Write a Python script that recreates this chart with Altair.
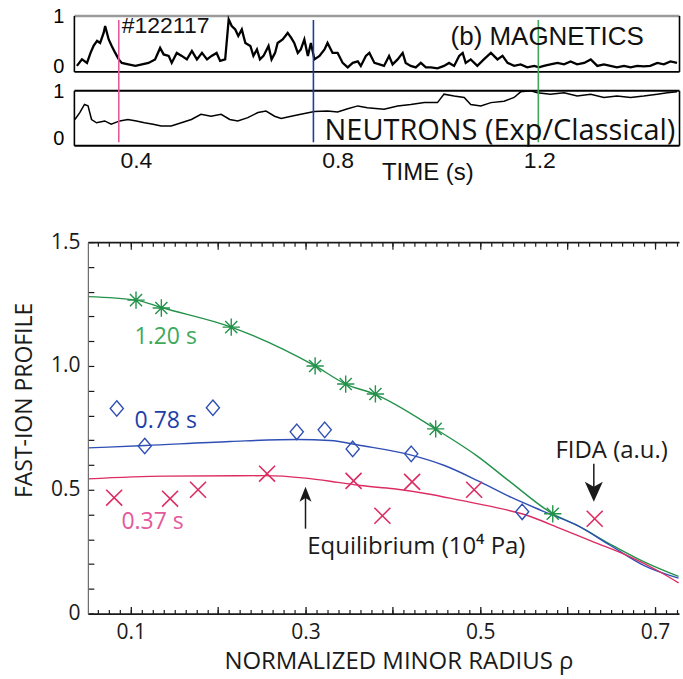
import altair as alt
import pandas as pd

# ---------------- top panels: time traces ----------------
mag_t = [0.283, 0.293, 0.303, 0.310, 0.316, 0.323, 0.329, 0.336, 0.339, 0.346,
         0.352, 0.359, 0.366, 0.372, 0.385, 0.399, 0.412, 0.425, 0.438, 0.448,
         0.455, 0.465, 0.471, 0.481, 0.491, 0.501, 0.511, 0.521, 0.531, 0.541,
         0.550, 0.560, 0.567, 0.577, 0.584, 0.590, 0.597, 0.603, 0.610, 0.617,
         0.627, 0.633, 0.640, 0.646, 0.653, 0.663, 0.669, 0.676,
         0.681, 0.691, 0.701, 0.708, 0.714, 0.721, 0.727, 0.734, 0.741, 0.747,
         0.754, 0.764, 0.774, 0.780, 0.790, 0.800, 0.810, 0.820, 0.830, 0.840,
         0.846, 0.856, 0.863, 0.873, 0.883, 0.892, 0.902, 0.909, 0.919, 0.929,
         0.935, 0.945, 0.955, 0.965, 0.975, 0.985, 0.998, 1.011, 1.021, 1.031,
         1.041, 1.048, 1.054, 1.064, 1.077,
         1.090, 1.104, 1.117, 1.127, 1.137, 1.150, 1.163, 1.176, 1.190, 1.199,
         1.209, 1.222, 1.236, 1.249, 1.262, 1.275, 1.289, 1.302, 1.315, 1.328,
         1.341, 1.354, 1.368, 1.381, 1.394, 1.407, 1.420, 1.434, 1.447, 1.460,
         1.473]
mag_v = [0.01, 0.14, 0.07, 0.27, 0.41, 0.51, 0.47, 0.67, 0.81, 0.54,
         0.41, 0.27, 0.14, 0.07, 0.04, 0.01, 0.04, 0.07, 0.14, 0.37,
         0.24, 0.21, 0.07, 0.27, 0.21, 0.14, 0.31, 0.14, 0.27, 0.14,
         0.21, 0.27, 0.11, 0.14, 0.94, 0.81, 0.74, 0.61, 0.74, 0.47,
         0.41, 0.21, 0.34, 0.14, 0.21, 0.41, 0.14, 0.27,
         0.47, 0.54, 0.67, 0.57, 0.47, 0.27, 0.34, 0.54, 0.21, 0.47,
         0.14, 0.21, 0.34, 0.47, 0.27, 0.27, 0.07, -0.02, 0.07, 0.10,
         0.01, 0.21, 0.27, 0.07, 0.04, 0.01, 0.21, 0.04, 0.14, 0.27,
         0.07, 0.01, -0.02, 0.07, -0.02, -0.02, -0.04, 0.01, 0.07, 0.01,
         0.21, 0.27, 0.07, 0.14, 0.01,
         0.14, 0.27, 0.14, 0.21, 0.07, 0.01, 0.04, -0.02, 0.01, -0.02,
         0.01, 0.04, 0.07, 0.04, 0.10, 0.04, 0.07, 0.14, 0.01, 0.04,
         0.01, -0.02, 0.01, -0.02, 0.01, 0.00, 0.01, 0.07, 0.04, 0.10,
         0.07]

neu_t = [0.279, 0.289, 0.298, 0.305, 0.312, 0.322, 0.338, 0.351, 0.368, 0.384,
         0.401, 0.417, 0.434, 0.450, 0.470, 0.490, 0.510, 0.529, 0.549, 0.569,
         0.586, 0.602, 0.622, 0.642, 0.658, 0.675, 0.688, 0.708, 0.727, 0.754,
         0.780, 0.800, 0.820, 0.840, 0.859, 0.892, 0.919, 0.945, 0.972, 0.998,
         1.011, 1.031, 1.051, 1.064, 1.084, 1.104, 1.130, 1.150, 1.163, 1.183,
         1.196, 1.222, 1.249, 1.275, 1.302, 1.328, 1.354, 1.381, 1.407, 1.434,
         1.454, 1.473]
neu_v = [0.40, 0.55, 0.72, 0.69, 0.40, 0.33, 0.37, 0.30, 0.37, 0.40,
         0.37, 0.33, 0.30, 0.26, 0.26, 0.33, 0.40, 0.51, 0.47, 0.51,
         0.40, 0.37, 0.44, 0.55, 0.58, 0.47, 0.42, 0.47, 0.51, 0.57,
         0.58, 0.56, 0.63, 0.69, 0.65, 0.62, 0.69, 0.72, 0.76, 0.76,
         0.94, 0.90, 0.87, 0.72, 0.69, 0.76, 0.79, 0.87, 0.99, 1.01,
         0.97, 0.94, 0.97, 0.90, 0.94, 0.87, 0.90, 0.87, 0.90, 0.94,
         0.97, 0.99]

slice_t = [0.366, 0.752, 1.198]
slice_name = ["0.37 s", "0.78 s", "1.20 s"]
slice_top = [0.93, 0.93, 0.93]
slice_bottom = [-1.52, -1.52, -1.52]
slice_colors = ["#e4589c", "#1d3ea6", "#3ea95a"]

time_ticks = [0.4, 0.8, 1.2]
mag_text = ["#122117", "(b) MAGNETICS"]
mag_text_t = [0.372, 1.024]
mag_text_v = [0.80, 0.58]
neu_text = ["NEUTRONS (Exp/Classical)"]
neu_text_t = [0.774]
neu_text_v = [0.149]

# ---------------- main panel: fast-ion profiles ----------------
green_rho = [0.106, 0.135, 0.215, 0.311, 0.346, 0.380, 0.449, 0.583]
green_val = [1.266, 1.234, 1.157, 1.000, 0.927, 0.887, 0.746, 0.403]
blue_rho = [0.084, 0.116, 0.194, 0.290, 0.322, 0.354, 0.421, 0.548]
blue_val = [0.828, 0.677, 0.831, 0.734, 0.742, 0.665, 0.645, 0.411]
red_rho = [0.081, 0.145, 0.177, 0.256, 0.355, 0.388, 0.422, 0.493, 0.631]
red_val = [0.468, 0.464, 0.500, 0.565, 0.536, 0.395, 0.532, 0.500, 0.383]

green_line_rho = [0.051, 0.106, 0.135, 0.215, 0.311, 0.346, 0.380, 0.449, 0.497,
                  0.535, 0.583, 0.611, 0.649, 0.687, 0.727]
green_line_val = [1.280, 1.266, 1.236, 1.157, 1.000, 0.927, 0.885, 0.745, 0.635,
                  0.530, 0.403, 0.356, 0.280, 0.210, 0.150]
blue_line_rho = [0.051, 0.117, 0.214, 0.291, 0.328, 0.363, 0.420, 0.459, 0.497,
                 0.535, 0.573, 0.611, 0.649, 0.687, 0.727]
blue_line_val = [0.669, 0.679, 0.695, 0.703, 0.699, 0.679, 0.641, 0.598, 0.537,
                 0.470, 0.412, 0.356, 0.275, 0.195, 0.143]
red_line_rho = [0.051, 0.139, 0.253, 0.300, 0.337, 0.363, 0.401, 0.439, 0.478,
                0.516, 0.554, 0.592, 0.630, 0.668, 0.706, 0.727]
red_line_val = [0.544, 0.555, 0.557, 0.547, 0.530, 0.517, 0.504, 0.484, 0.457,
                0.430, 0.396, 0.343, 0.289, 0.235, 0.168, 0.124]

label_text = ["1.20 s", "0.78 s", "0.37 s"]
label_rho = [0.140, 0.140, 0.125]
label_val = [1.117, 0.778, 0.371]
note_text = ["Equilibrium (10\u2074 Pa)", "FIDA (a.u.)"]
note_rho = [0.302, 0.586]
note_val = [0.270, 0.657]
arrow_rho = [0.300, 0.630]
arrow_from = [0.343, 0.605]
arrow_to = [0.482, 0.492]

x_major = [0.1, 0.2, 0.3, 0.4, 0.5, 0.6, 0.7]
x_minor = [round(0.0125 * k, 4) for k in range(5, 59)]
y_ticks = [0.0, 0.1, 0.2, 0.3, 0.4, 0.5, 0.6, 0.7, 0.8, 0.9, 1.0,
           1.1, 1.2, 1.3, 1.4, 1.5]

GREEN = "#23924a"
BLUE = "#2f4fb4"
RED = "#dc2c62"
INK = "#1a1a1a"
SANS = "Liberation Sans"
HUM = "Open Sans"

# ================= top chart =================
xs = alt.Scale(domain=[0.277, 1.477], range=[0, 606])
mag_sc = alt.Scale(domain=[-0.1, 1.02], range=[56, 0])
neu_sc = alt.Scale(domain=[-0.149, 1.021], range=[130, 75])


def edge_axis(orient, offset=0, color="black", width=1.6):
    return alt.Axis(orient=orient, offset=offset, domain=True, domainColor=color,
                    domainWidth=width, ticks=False, labels=False, grid=False,
                    title=None)


def ylab_axis():
    return alt.Axis(orient="left", values=[0, 1], format="d", ticks=False,
                    tickSize=0, domain=True, domainColor="black", domainWidth=1.6,
                    grid=False, labelFont=SANS, labelFontSize=20,
                    labelColor="black", labelPadding=10, labelFlush=False,
                    labelOverlap=False, title=None)


mag_df = pd.DataFrame({"t": mag_t, "v": mag_v})
neu_df = pd.DataFrame({"t": neu_t, "v": neu_v})
slice_df = pd.DataFrame({"t": slice_t, "name": slice_name, "top": slice_top,
                         "bottom": slice_bottom})

t1 = alt.Chart(mag_df).mark_line(color="black", strokeWidth=2.3).encode(
    x=alt.X("t:Q", scale=xs, axis=edge_axis("top", 0, "#9a9a9a", 2.5)),
    y=alt.Y("v:Q", scale=mag_sc, axis=ylab_axis()),
)
t2 = alt.Chart(neu_df).mark_line(color="black", strokeWidth=1.5).encode(
    x=alt.X("t:Q", scale=xs, axis=alt.Axis(
        orient="bottom", values=time_ticks, format=".1f", ticks=False, tickSize=0,
        domain=True, domainColor="black", domainWidth=2, grid=False,
        labelFont=SANS, labelFontSize=23, labelColor="#111", labelPadding=4,
        labelFlush=False, title="TIME (s)", titleFont=SANS, titleFontSize=24,
        titleFontWeight="normal", titleColor="#111", titleX=354, titleY=27,
        titleBaseline="middle")),
    y=alt.Y("v:Q", scale=neu_sc, axis=ylab_axis()),
)
t3 = alt.Chart(slice_df).mark_rule(strokeWidth=1.6).encode(
    x=alt.X("t:Q", scale=xs, axis=edge_axis("bottom", -74, "black", 1.6)),
    y=alt.Y("top:Q", scale=mag_sc, axis=edge_axis("right", 0)),
    y2="bottom:Q",
    color=alt.Color("name:N", scale=alt.Scale(domain=slice_name, range=slice_colors),
                    legend=None),
)
t4 = alt.Chart(pd.DataFrame({"t": neu_text_t, "v": neu_text_v, "s": neu_text})).mark_text(
    font=HUM, fontSize=29, color="#111", align="left", baseline="middle").encode(
    x=alt.X("t:Q", scale=xs, axis=edge_axis("top", -75, "black", 2)),
    y=alt.Y("v:Q", scale=neu_sc, axis=edge_axis("right", 0)),
    text="s:N",
)
t5 = alt.Chart(pd.DataFrame({"t": mag_text_t[:1], "v": mag_text_v[:1], "s": mag_text[:1]})).mark_text(
    font=SANS, fontSize=23, color="#111", align="left", baseline="middle").encode(
    x=alt.X("t:Q", scale=xs, axis=None),
    y=alt.Y("v:Q", scale=mag_sc, axis=None),
    text="s:N",
)
t6 = alt.Chart(pd.DataFrame({"t": mag_text_t[1:], "v": mag_text_v[1:], "s": mag_text[1:]})).mark_text(
    font=SANS, fontSize=26, color="#111", align="left", baseline="middle").encode(
    x=alt.X("t:Q", scale=xs, axis=None),
    y=alt.Y("v:Q", scale=mag_sc, axis=None),
    text="s:N",
)

top = alt.layer(t1, t2, t3, t4, t5, t6).resolve_scale(y="independent").resolve_axis(
    x="independent", y="independent").properties(
    width=606, height=130, view=alt.ViewBackground(stroke="transparent"))

# ================= main chart =================
xm = alt.Scale(domain=[0.0509, 0.7275], range=[0, 592])
ym = alt.Scale(domain=[0.0, 1.5])


def tick_axis(orient, values, size, domain=False):
    # inward ticks: negative tick length given as an expression
    return alt.Axis(orient=orient, values=values, tickSize={"expr": str(-size)},
                    ticks=True, tickColor=INK, tickWidth=1.2, domain=domain,
                    domainColor=INK, domainWidth=1.8, grid=False, labels=False,
                    title=None, zindex=1)


ax_bottom = alt.Axis(
    orient="bottom", values=x_major, tickSize={"expr": "-7"}, ticks=True,
    tickColor=INK, tickWidth=1.3, domain=True, domainColor=INK, domainWidth=1.8,
    grid=False, zindex=1,
    labelExpr="round(datum.value*10) % 2 == 1 ? format(datum.value, '.1f') : ''",
    labelFont=HUM, labelFontSize=21, labelColor=INK, labelPadding=15,
    labelFlush=False, labelOverlap=False,
    title="NORMALIZED MINOR RADIUS \u03c1", titleFont=HUM, titleFontSize=24,
    titleFontWeight="normal", titleColor=INK, titleX=311, titleY=48,
    titleBaseline="middle")
ax_left = alt.Axis(
    orient="left", values=y_ticks, tickSize={"expr": "-6"}, ticks=True,
    tickColor=INK, tickWidth=1.2, domain=True, domainColor="#6a6a6a",
    domainWidth=1.2, grid=False, zindex=1,
    labelExpr="datum.value == 0 ? '0' : (round(datum.value*10) % 5 == 0 ? format(datum.value, '.1f') : '')",
    labelFont=HUM, labelFontSize=21, labelColor=INK, labelPadding=14,
    labelFlush=False, labelOverlap=False,
    title="FAST-ION PROFILE", titleFont=HUM, titleFontSize=23,
    titleFontWeight="normal", titleColor=INK, titleX=-63, titleY=158,
    titleBaseline="middle")

STAR = "M0,-1L0,1M-1,0L1,0M-0.7,-0.7L0.7,0.7M-0.7,0.7L0.7,-0.7"
CROSS = "M-1,-1L1,1M-1,1L1,-1"
DIAM = "M0,-1L0.85,0L0,1L-0.85,0Z"
HEAD_UP = "M0,-1L0.8,1L0,0.5L-0.8,1Z"
HEAD_DOWN = "M0,1L0.9,-1L0,-0.5L-0.9,-1Z"

gl = alt.Chart(pd.DataFrame({"r": green_line_rho, "v": green_line_val})).mark_line(
    color=GREEN, strokeWidth=1.4, interpolate="monotone").encode(
    x=alt.X("r:Q", scale=xm, axis=ax_bottom), y=alt.Y("v:Q", scale=ym, axis=ax_left))
bl = alt.Chart(pd.DataFrame({"r": blue_line_rho, "v": blue_line_val})).mark_line(
    color=BLUE, strokeWidth=1.4, interpolate="monotone").encode(
    x=alt.X("r:Q", scale=xm, axis=tick_axis("bottom", x_minor, 4)),
    y=alt.Y("v:Q", scale=ym, axis=None))
rl = alt.Chart(pd.DataFrame({"r": red_line_rho, "v": red_line_val})).mark_line(
    color=RED, strokeWidth=1.4, interpolate="monotone").encode(
    x=alt.X("r:Q", scale=xm, axis=tick_axis("top", x_major, 7, True)),
    y=alt.Y("v:Q", scale=ym, axis=None))
gp = alt.Chart(pd.DataFrame({"r": green_rho, "v": green_val})).mark_point(
    shape=STAR, size=300, filled=False, color=GREEN, strokeWidth=1.4, opacity=1).encode(
    x=alt.X("r:Q", scale=xm, axis=tick_axis("top", x_minor, 4)),
    y=alt.Y("v:Q", scale=ym, axis=None))
bp = alt.Chart(pd.DataFrame({"r": blue_rho, "v": blue_val})).mark_point(
    shape=DIAM, size=240, filled=False, color=BLUE, strokeWidth=1.4, opacity=1).encode(
    x=alt.X("r:Q", scale=xm, axis=None), y=alt.Y("v:Q", scale=ym, axis=None))
rp = alt.Chart(pd.DataFrame({"r": red_rho, "v": red_val})).mark_point(
    shape=CROSS, size=256, filled=False, color=RED, strokeWidth=1.6, opacity=1).encode(
    x=alt.X("r:Q", scale=xm, axis=None), y=alt.Y("v:Q", scale=ym, axis=None))

lab = alt.Chart(pd.DataFrame({"r": label_rho, "v": label_val, "s": label_text})).mark_text(
    font=HUM, fontSize=23, align="center", baseline="middle").encode(
    x=alt.X("r:Q", scale=xm, axis=None), y=alt.Y("v:Q", scale=ym, axis=None),
    text="s:N",
    color=alt.Color("s:N", scale=alt.Scale(domain=label_text, range=[GREEN, BLUE, RED]),
                    legend=None))
notes = alt.Chart(pd.DataFrame({"r": note_rho, "v": note_val, "s": note_text})).mark_text(
    font=HUM, fontSize=24, align="left", baseline="middle", color=INK).encode(
    x=alt.X("r:Q", scale=xm, axis=None), y=alt.Y("v:Q", scale=ym, axis=None),
    text="s:N")
shafts = alt.Chart(pd.DataFrame({"r": arrow_rho, "a": arrow_from, "b": arrow_to})).mark_rule(
    color=INK, strokeWidth=1.5).encode(
    x=alt.X("r:Q", scale=xm, axis=None), y=alt.Y("a:Q", scale=ym, axis=None), y2="b:Q")
head1 = alt.Chart(pd.DataFrame({"r": arrow_rho[:1], "b": arrow_to[:1]})).mark_point(
    shape=HEAD_UP, size=225, filled=True, color=INK, opacity=1).encode(
    x=alt.X("r:Q", scale=xm, axis=None), y=alt.Y("b:Q", scale=ym, axis=None))
head2 = alt.Chart(pd.DataFrame({"r": arrow_rho[1:], "b": arrow_to[1:]})).mark_point(
    shape=HEAD_DOWN, size=400, filled=True, color=INK, opacity=1).encode(
    x=alt.X("r:Q", scale=xm, axis=None), y=alt.Y("b:Q", scale=ym, axis=None))

main = alt.layer(gl, bl, rl, gp, bp, rp, lab, notes, shafts, head1, head2).resolve_axis(
    x="independent", y="independent").properties(
    width=578, height=372,
    view=alt.ViewBackground(stroke="transparent"))

chart = alt.vconcat(top, main, spacing=97, bounds="flush", center=True).properties(
    padding={"left": 13, "top": 5, "right": 0, "bottom": 0},
    background="white")

chart.save("out.html", embed_options={"renderer": "svg", "actions": False})
